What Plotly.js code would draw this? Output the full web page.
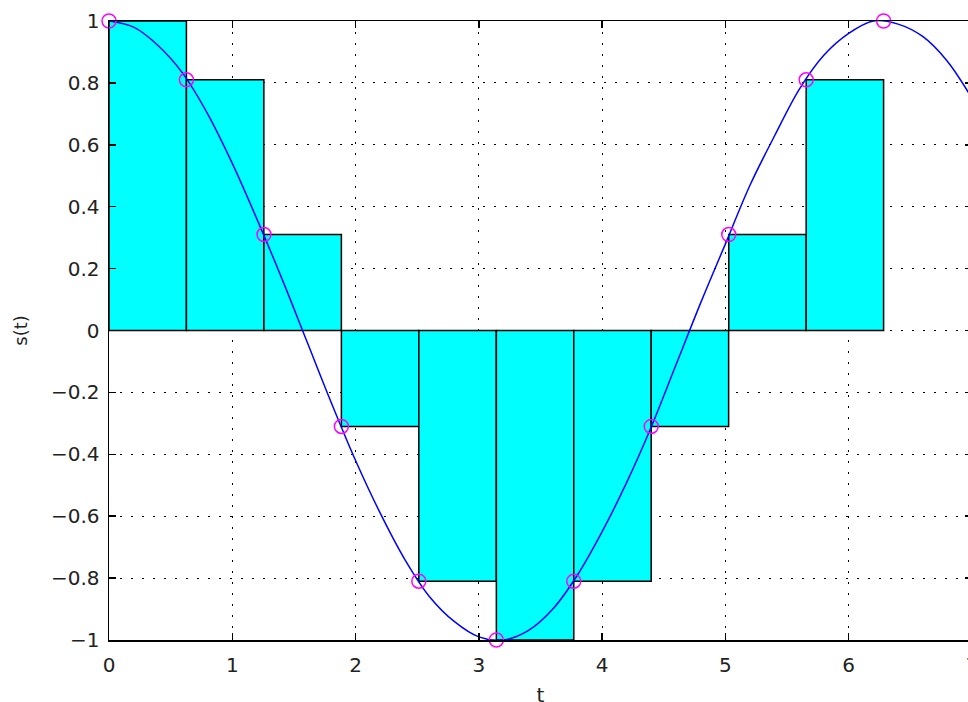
<!DOCTYPE html>
<html>
<head>
<meta charset="utf-8">
<script src="https://cdn.plot.ly/plotly-3.0.1.min.js"></script>
<style>
  html, body { margin: 0; padding: 0; overflow: hidden; background: #fff; }
  #chart { width: 985px; height: 716px; }
</style>
</head>
<body>
<div id="chart"></div>
<script>
// sampled points (left edge of each hold step) and sample values
var sampleT = [0, 0.628, 1.257, 1.885, 2.513, 3.142, 3.770, 4.398, 5.027, 5.655, 6.283];
var sampleS = [1, 0.81, 0.31, -0.31, -0.81, -1, -0.81, -0.31, 0.31, 0.81, 1];
var stepWidth = 0.628;

// continuous signal
var curveT = [0, 0.2, 0.4, 0.6, 0.8, 1.0, 1.2, 1.4, 1.6, 1.8, 2.0, 2.2, 2.4, 2.6, 2.8, 3.0, 3.2, 3.4,
              3.6, 3.8, 4.0, 4.2, 4.4, 4.6, 4.8, 5.0, 5.2, 5.4, 5.6, 5.8, 6.0, 6.2, 6.4, 6.6, 6.8, 7.0];
var curveS = [1.00, 0.98, 0.92, 0.83, 0.70, 0.54, 0.36, 0.17, -0.03, -0.23, -0.42, -0.59, -0.74, -0.86,
              -0.94, -0.99, -1.00, -0.97, -0.90, -0.79, -0.65, -0.49, -0.31, -0.11, 0.09, 0.28, 0.47,
              0.63, 0.78, 0.89, 0.96, 1.00, 0.99, 0.95, 0.87, 0.75];

var yTicks = [-1, -0.8, -0.6, -0.4, -0.2, 0, 0.2, 0.4, 0.6, 0.8, 1];
var yTickText = ['\u22121', '\u22120.8', '\u22120.6', '\u22120.4', '\u22120.2', '0', '0.2', '0.4', '0.6', '0.8', '1'];
var xTicks = [0, 1, 2, 3, 4, 5, 6, 7];

var fontFam = 'DejaVu Sans, sans-serif';

// hold steps: only the first 10 samples get a bar
var bars = {
    type: 'bar',
    x: sampleT.slice(0, 10),
    y: sampleS.slice(0, 10),
    width: stepWidth,
    offset: 0,
    marker: { color: '#00ffff', line: { color: '#000', width: 1.5 } },
    hoverinfo: 'x+y'
};

var curve = {
    type: 'scatter',
    mode: 'lines',
    x: curveT,
    y: curveS,
    line: { color: '#0000ff', width: 1.5, shape: 'spline' }
};

var samples = {
    type: 'scatter',
    mode: 'markers',
    x: sampleT,
    y: sampleS,
    marker: { symbol: 'circle-open', color: '#ff00ff', size: 14, line: { width: 1.5 } },
    cliponaxis: false
};

var layout = {
    width: 985,
    height: 716,
    margin: { l: 109, r: 13, t: 21, b: 76 },
    paper_bgcolor: '#fff',
    plot_bgcolor: '#fff',
    showlegend: false,
    bargap: 0,
    font: { family: fontFam, size: 20, color: '#222' },
    xaxis: {
        range: [0, 7],
        tickvals: xTicks,
        ticks: 'inside',
        ticklen: 7,
        tickwidth: 1.5,
        tickcolor: '#000',
        showline: true,
        linecolor: '#000',
        linewidth: 1.5,
        mirror: 'ticks',
        showgrid: true,
        gridcolor: '#000',
        gridwidth: 1,
        griddash: '2px,9px',
        zeroline: false,
        ticklabelstandoff: 6,
        tickfont: { family: fontFam, size: 20, color: '#222' },
        title: { text: 't', font: { family: fontFam, size: 20, color: '#222' }, standoff: 12 }
    },
    yaxis: {
        range: [-1, 1],
        tickvals: yTicks,
        ticktext: yTickText,
        ticks: 'inside',
        ticklen: 7,
        tickwidth: 1.5,
        tickcolor: '#000',
        showline: true,
        linecolor: '#000',
        linewidth: 1.5,
        mirror: 'ticks',
        showgrid: true,
        gridcolor: '#000',
        gridwidth: 1,
        griddash: '2px,9px',
        zeroline: false,
        ticklabelstandoff: 4,
        tickfont: { family: fontFam, size: 20, color: '#222' },
        title: { text: 's(t)', font: { family: fontFam, size: 18, color: '#222' }, standoff: 18 }
    }
};

Plotly.newPlot('chart', [bars, curve, samples], layout, { displayModeBar: false, staticPlot: true });
</script>
</body>
</html>
